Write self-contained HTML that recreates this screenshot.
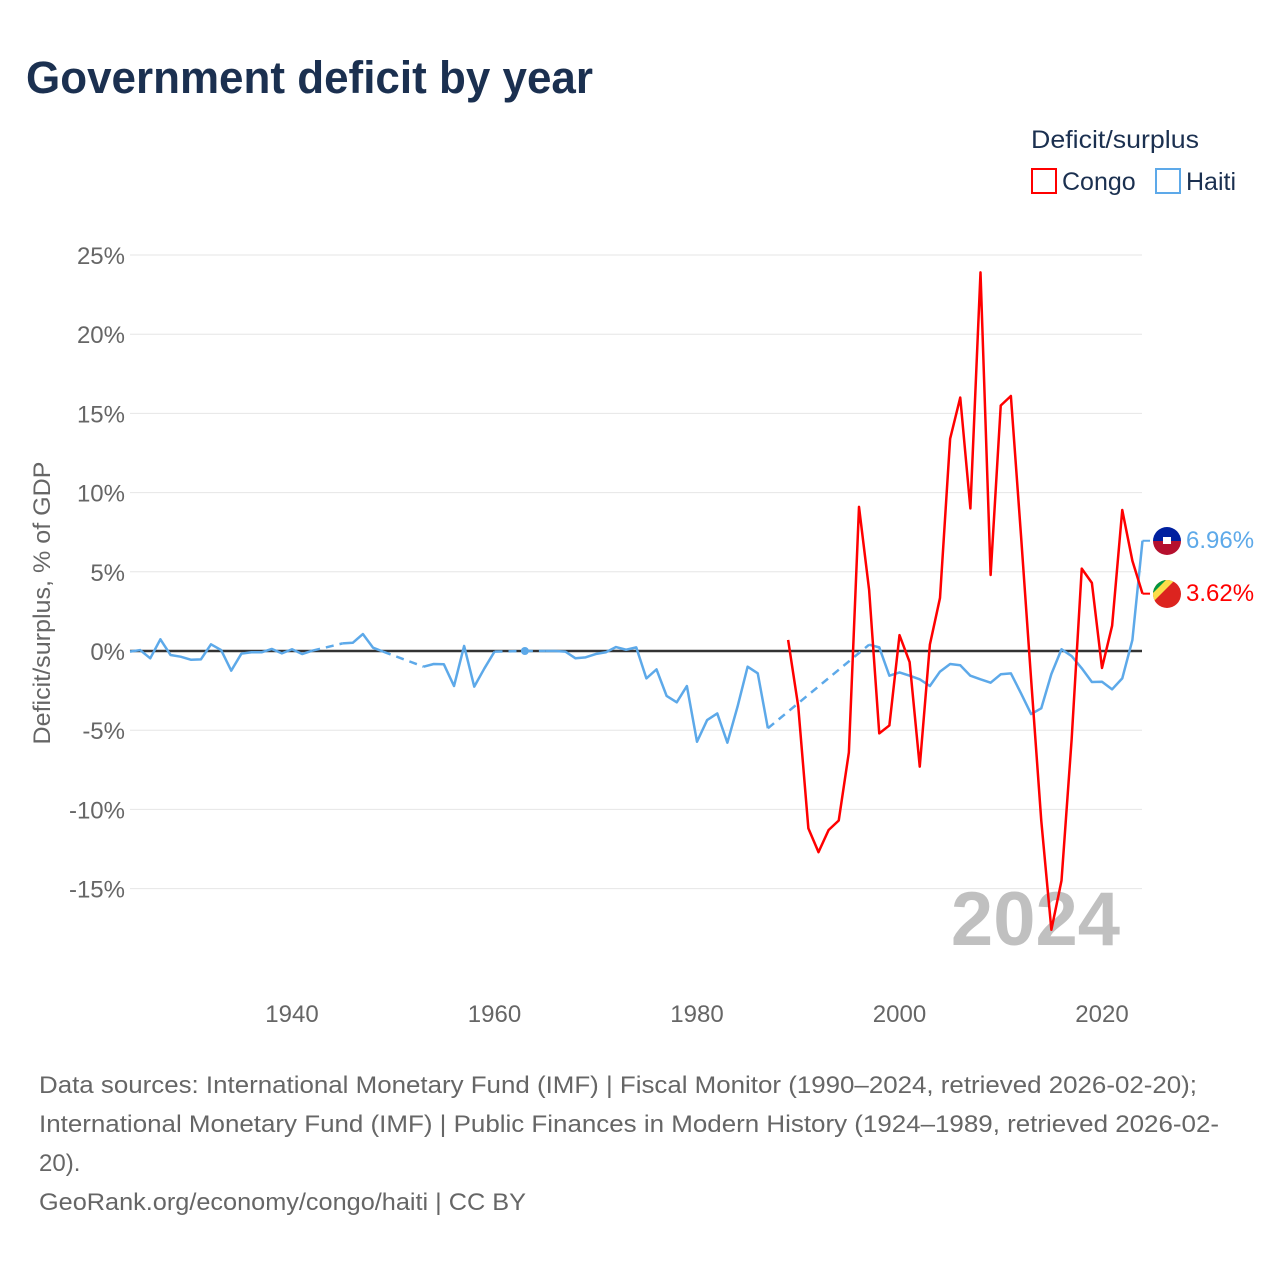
<!DOCTYPE html>
<html><head><meta charset="utf-8"><style>
body{margin:0;background:#fff;font-family:"Liberation Sans",sans-serif}
#wrap{position:relative;width:1280px;height:1280px;overflow:hidden}
</style></head><body>
<div id="wrap">
<svg id="chart" width="1280" height="1280" xmlns="http://www.w3.org/2000/svg">
<text x="26" y="93" font-size="45" font-weight="bold" fill="#1b3050" textLength="567" lengthAdjust="spacingAndGlyphs">Government deficit by year</text>
<text x="1031" y="148" font-size="25" fill="#1b3050" textLength="168" lengthAdjust="spacingAndGlyphs">Deficit/surplus</text>
<g><rect x="1032" y="169" width="24" height="24" fill="none" stroke="#ff0000" stroke-width="2"/><text x="1062" y="190" font-size="25" fill="#1b3050">Congo</text></g>
<g><rect x="1156" y="169" width="24" height="24" fill="none" stroke="#5da9e9" stroke-width="2"/><text x="1186" y="190" font-size="25" fill="#1b3050">Haiti</text></g>
<g id="grid"></g><g id="ylabels"></g><g id="xlabels"></g>
<text transform="translate(50,603) rotate(-90)" text-anchor="middle" font-size="24" fill="#666" textLength="283" lengthAdjust="spacingAndGlyphs">Deficit/surplus, % of GDP</text>
<text x="1120" y="945" text-anchor="end" font-size="76" font-weight="bold" fill="#c0c0c0">2024</text>
<g id="series"></g>
<g><clipPath id="ch"><circle cx="1167" cy="541" r="14"/></clipPath><g clip-path="url(#ch)"><rect x="1153" y="527" width="28" height="14" fill="#00209f"/><rect x="1153" y="541" width="28" height="14" fill="#b5102e"/><rect x="1163" y="537" width="8" height="7" fill="#fff"/></g></g>
<g><clipPath id="cc"><circle cx="1167" cy="594" r="14"/></clipPath><g clip-path="url(#cc)"><rect x="1153" y="580" width="28" height="28" fill="#dc241f"/><polygon points="1153,580 1175,580 1153,602" fill="#fbde4a"/><polygon points="1153,580 1166,580 1153,593" fill="#009543"/></g></g>
<text x="1186" y="548" font-size="24" fill="#5da9e9">6.96%</text>
<text x="1186" y="601" font-size="24" fill="#ff0000">3.62%</text>
<g font-size="24" fill="#666">
<text x="39" y="1093" textLength="1158" lengthAdjust="spacingAndGlyphs">Data sources: International Monetary Fund (IMF) | Fiscal Monitor (1990–2024, retrieved 2026-02-20);</text>
<text x="39" y="1132" textLength="1180" lengthAdjust="spacingAndGlyphs">International Monetary Fund (IMF) | Public Finances in Modern History (1924–1989, retrieved 2026-02-</text>
<text x="39" y="1171">20).</text>
<text x="39" y="1210" textLength="487" lengthAdjust="spacingAndGlyphs">GeoRank.org/economy/congo/haiti | CC BY</text>
</g>
</svg>
</div>
<script>
const yTicks=[25,20,15,10,5,0,-5,-10,-15];
const xTicks=[1940,1960,1980,2000,2020];
const haitiYears=[];for(let y=1924;y<=2024;y++)haitiYears.push(y);
const haitiValues=[-0.04,0.06,-0.46,0.74,-0.25,-0.36,-0.55,-0.53,0.42,0.06,-1.24,-0.17,-0.08,-0.08,0.13,-0.15,0.11,-0.19,0.02,null,null,0.48,0.52,1.07,0.21,-0.04,null,null,null,-0.99,-0.82,-0.84,-2.21,0.32,-2.25,-1.1,-0.04,null,null,0,null,0,0,-0.04,-0.46,-0.40,-0.19,-0.08,0.25,0.08,0.23,-1.73,-1.16,-2.84,-3.24,-2.21,-5.73,-4.36,-3.94,-5.79,-3.52,-0.99,-1.41,-4.88,null,null,null,null,null,null,null,null,null,0.4,0.23,-1.56,-1.35,-1.56,-1.79,-2.21,-1.30,-0.82,-0.90,-1.56,-1.79,-2.0,-1.47,-1.41,-2.67,-3.98,-3.62,-1.45,0.11,-0.32,-1.09,-1.96,-1.94,-2.42,-1.73,0.69,6.96];
const congoYears=[];for(let y=1989;y<=2024;y++)congoYears.push(y);
const congoValues=[0.7,-3.5,-11.2,-12.7,-11.3,-10.7,-6.4,9.1,3.85,-5.2,-4.7,1.0,-0.7,-7.3,0.4,3.35,13.4,16.0,9.0,23.9,4.8,15.5,16.1,7.3,-1.8,-10.7,-17.6,-14.5,-5.6,5.2,4.3,-1.07,1.6,8.9,5.7,3.62];
const NS='http://www.w3.org/2000/svg';
const X=y=>130+(y-1924)*10.125, Y=v=>651-v*15.84;
function mk(t,a,p){const e=document.createElementNS(NS,t);for(const k in a)e.setAttribute(k,a[k]);p.appendChild(e);return e;}
const grid=document.getElementById('grid'),yl=document.getElementById('ylabels'),xl=document.getElementById('xlabels'),ser=document.getElementById('series');
yTicks.forEach(t=>{
 const l=mk('line',{x1:130,x2:1142,y1:Y(t),y2:Y(t),stroke:t===0?'#333':'#e6e6e6','stroke-width':t===0?2.5:1},grid);
 
 
 const tx=mk('text',{x:125,y:Y(t)+9,'text-anchor':'end','font-size':24,fill:'#666'},yl);tx.textContent=t+'%';
 
 
});
xTicks.forEach(t=>{
 const tx=mk('text',{x:X(t),y:1022,'text-anchor':'middle','font-size':24,fill:'#666'},xl);tx.textContent=t;
 
 
});
function draw(years,vals,color,name){
 const g=mk('g',{},ser);
 
 
 let seg=[],last=null;
 const flush=()=>{if(seg.length>1)mk('polyline',{points:seg.map(p=>p.join(',')).join(' '),fill:'none',stroke:color,'stroke-width':2.5,'stroke-linejoin':'round'},g);else if(seg.length===1)mk('circle',{cx:seg[0][0],cy:seg[0][1],r:4,fill:color},g);seg=[];};
 years.forEach((yr,i)=>{const v=vals[i];
  if(v==null){if(seg.length){last=seg[seg.length-1];}flush();return;}
  const p=[X(yr),Y(v)];
  if(!seg.length&&last){mk('line',{x1:last[0],y1:last[1],x2:p[0],y2:p[1],stroke:color,'stroke-width':2.5,'stroke-dasharray':'8,6'},g);}
  seg.push(p);last=p;});
 flush();
}
draw(haitiYears,haitiValues,'#5da9e9','haiti');
draw(congoYears,congoValues,'#ff0000','congo');
const h=mk('line',{x1:X(2024),y1:Y(6.96),x2:1150,y2:Y(6.96),stroke:'#5da9e9','stroke-width':2},ser);


const c=mk('line',{x1:X(2024),y1:Y(3.62),x2:1150,y2:Y(3.62),stroke:'#ff0000','stroke-width':2},ser);


</script>
</body></html>
